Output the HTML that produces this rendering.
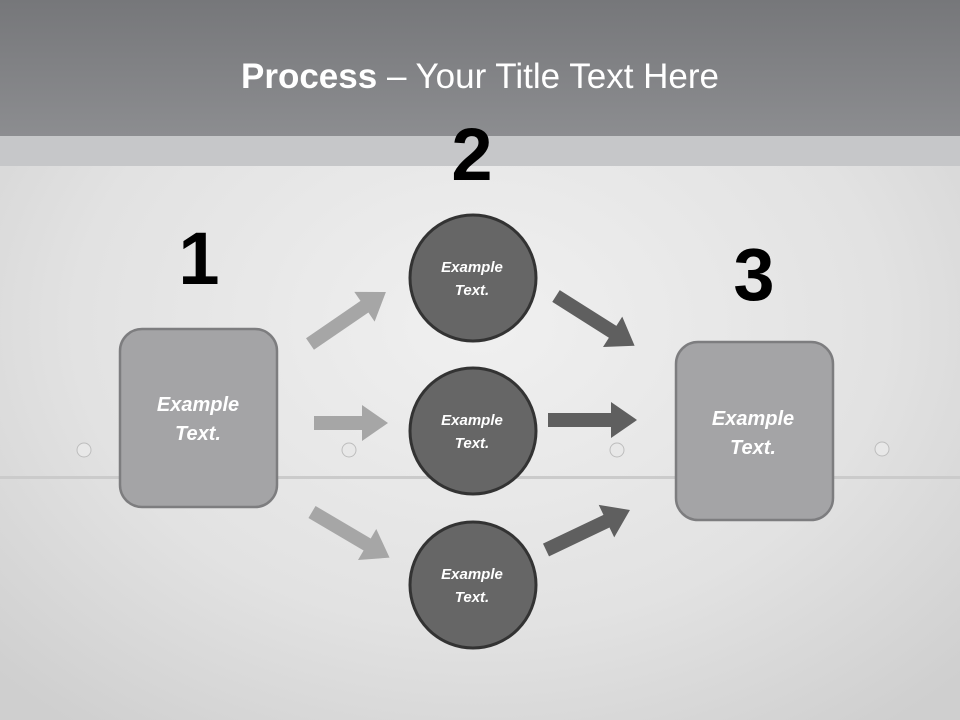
<!DOCTYPE html>
<html><head><meta charset="utf-8"><style>
html,body{margin:0;padding:0;width:960px;height:720px;overflow:hidden}
svg{display:block}
text{font-family:"Liberation Sans",sans-serif}
</style></head><body>
<svg width="960" height="720" viewBox="0 0 960 720" xmlns="http://www.w3.org/2000/svg">
<defs>
<radialGradient id="bg" cx="0.5" cy="0.45" r="0.7">
<stop offset="0" stop-color="#f0f0f0"/><stop offset="0.6" stop-color="#e2e2e2"/><stop offset="1" stop-color="#cfcfcf"/>
</radialGradient>
<linearGradient id="hd" x1="0" y1="0" x2="0" y2="1"><stop offset="0" stop-color="#76777a"/><stop offset="1" stop-color="#8c8d90"/></linearGradient>
</defs>
<rect width="960" height="720" fill="url(#bg)"/>
<rect width="960" height="136" fill="url(#hd)"/>
<rect y="136" width="960" height="30" fill="#c6c7c9"/>
<rect y="476" width="960" height="3" fill="#cbcbcb"/>
<g fill="#e8e8e8" stroke="#bdbdbd" stroke-width="1">
<circle cx="84" cy="450" r="7"/><circle cx="349" cy="450" r="7"/><circle cx="617" cy="450" r="7"/><circle cx="882" cy="449" r="7"/>
</g>
<text x="480" y="88" text-anchor="middle" fill="#fff" font-size="35"><tspan font-weight="bold">Process</tspan> – Your Title Text Here</text>
<g font-weight="bold" font-size="74" fill="#000" text-anchor="middle">
<text x="199" y="284">1</text><text x="472" y="180">2</text><text x="754" y="300">3</text>
</g>
<g fill="#a6a6a6">
<polygon transform="translate(310,344) rotate(-34.4)" points="0,-7 66,-7 66,-18 92,0 66,18 66,7 0,7"/>
<polygon transform="translate(314,423)" points="0,-7 48,-7 48,-18 74,0 48,18 48,7 0,7"/>
<polygon transform="translate(312,512) rotate(30.5)" points="0,-7 64,-7 64,-18 90,0 64,18 64,7 0,7"/>
</g>
<g fill="#5f5f5f">
<polygon transform="translate(556,296) rotate(32.3)" points="0,-7 67,-7 67,-18 93,0 67,18 67,7 0,7"/>
<polygon transform="translate(548,420)" points="0,-7 63,-7 63,-18 89,0 63,18 63,7 0,7"/>
<polygon transform="translate(546,550) rotate(-25.5)" points="0,-7 67,-7 67,-18 93,0 67,18 67,7 0,7"/>
</g>
<g fill="#a4a4a6" stroke="#7d7d7f" stroke-width="2.5">
<rect x="120" y="329" width="157" height="178" rx="22"/>
<rect x="676" y="342" width="157" height="178" rx="22"/>
</g>
<g fill="#666" stroke="#333" stroke-width="3">
<circle cx="473" cy="278" r="63"/><circle cx="473" cy="431" r="63"/><circle cx="473" cy="585" r="63"/>
</g>
<g fill="#fff" font-weight="bold" font-style="italic" text-anchor="middle">
<g font-size="20"><text x="198" y="411">Example</text><text x="198" y="440">Text.</text>
<text x="753" y="425">Example</text><text x="753" y="454">Text.</text></g>
<g font-size="15"><text x="472" y="272">Example</text><text x="472" y="295">Text.</text>
<text x="472" y="425">Example</text><text x="472" y="448">Text.</text>
<text x="472" y="579">Example</text><text x="472" y="602">Text.</text></g>
</g>
</svg>
</body></html>
